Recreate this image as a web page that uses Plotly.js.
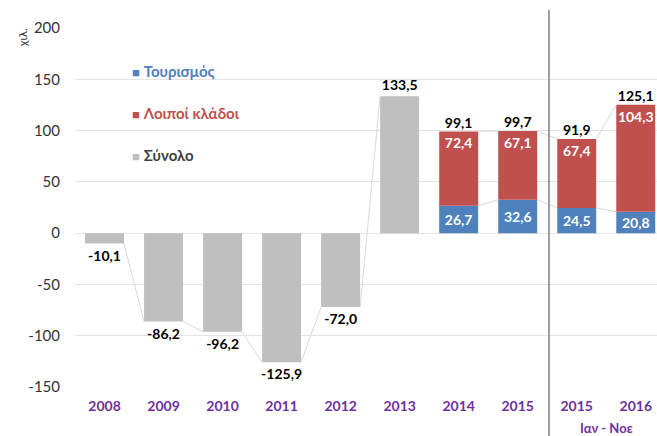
<!DOCTYPE html>
<html>
<head>
<meta charset="utf-8">
<script src="https://cdn.plot.ly/plotly-3.0.1.min.js"></script>
<style>html,body{margin:0;padding:0;background:#fff;}#chart{width:657px;height:436px;}</style>
</head>
<body>
<div id="chart"></div>
<script>
const categories = ['2008','2009','2010','2011','2012','2013','2014','2015','2015','2016'];
const totals = [-10.1,-86.2,-96.2,-125.9,-72.0,133.5,99.1,99.7,91.9,125.1];
const totalOnly = [-10.1,-86.2,-96.2,-125.9,-72.0,133.5,null,null,null,null];
const tourism = [null,null,null,null,null,null,26.7,32.6,24.5,20.8];
const others = [null,null,null,null,null,null,72.4,67.1,67.4,104.3];
const yTicks = [-150,-100,-50,0,50,100,150,200];
const periodLabel = 'Ιαν - Νοε';
const legendNames = ['Τουρισμός','Λοιποί κλάδοι','Σύνολο'];

const xs = categories.map((c,i)=>i);
const gap = 0.34, hw = (1-gap)/2;
const FONT = 'Lato, "Noto Sans", sans-serif';
const C_BLUE = '#4f81bd', C_RED = '#c0504d', C_GRAY = '#bfbfbf';
const fmt = v => v.toFixed(1).replace('.',',');

function connectors(vals){
  const x=[], y=[];
  for(let i=0;i<vals.length-1;i++){
    if(vals[i]!=null && vals[i+1]!=null){
      x.push(i+hw, i+1-hw, null); y.push(vals[i], vals[i+1], null);
    }
  }
  return {type:'scatter', mode:'lines', x, y, line:{color:'#d9d9d9', width:1}, hoverinfo:'skip', showlegend:false};
}
const redTops = tourism.map((t,i)=> t==null? null : t + others[i]);

const traces = [
  connectors(totalOnly), connectors(tourism), connectors(redTops),
  {type:'bar', x:xs, y:totalOnly, marker:{color:C_GRAY}, name:legendNames[2],
   text:totalOnly.map(v=> v==null?'':'<b>'+fmt(v)+'</b>'), texttemplate:'%{text}', textposition:'outside', cliponaxis:false,
   textangle:0, constraintext:'none',
   textfont:{family:FONT, size:14, color:'#000'}, showlegend:false},
  {type:'bar', x:xs, y:tourism, marker:{color:C_BLUE}, name:legendNames[0],
   texttemplate:'<b>%{y:.1f}</b>', textposition:'inside', insidetextanchor:'middle', textangle:0, constraintext:'none',
   textfont:{family:FONT, size:14, color:'#fff'}, showlegend:false},
  {type:'bar', x:xs, y:others, marker:{color:C_RED}, name:legendNames[1],
   texttemplate:'<b>%{y:.1f}</b>', textposition:'inside', insidetextanchor:'end', textangle:0, constraintext:'none',
   textfont:{family:FONT, size:14, color:'#fff'}, showlegend:false},
  {type:'scatter', mode:'text', x:xs.filter(i=>tourism[i]!=null), y:xs.filter(i=>tourism[i]!=null).map(i=>totals[i]),
   text:xs.filter(i=>tourism[i]!=null).map(i=>'<b>'+fmt(totals[i])+'</b>'),
   textposition:'top center', textfont:{family:FONT, size:14, color:'#000'}, hoverinfo:'skip', showlegend:false, cliponaxis:false}
];

const legendY = [0.880, 0.763, 0.646];
const legendCol = [C_BLUE, C_RED, C_GRAY];
const legendTxt = [C_BLUE, C_RED, '#404040'];
const annotations = legendNames.map((n,k)=>({
  xref:'paper', yref:'paper', x:0.094, y:legendY[k], xanchor:'left', yanchor:'middle', showarrow:false,
  text:'<span style="color:'+legendCol[k]+';font-size:13px">■</span> <b>'+n+'</b>',
  font:{family:FONT, size:15, color:legendTxt[k]}
}));
annotations.push({xref:'x', yref:'paper', x:8.5, y:0, yshift:-31, yanchor:'top', showarrow:false,
  text:'<b>'+periodLabel+'</b>', font:{family:FONT, size:13, color:'#7030a0'}});
annotations.push({xref:'paper', yref:'y', x:0, xshift:-53, xanchor:'center', y:190, yanchor:'middle', showarrow:false, textangle:-90,
  text:'χιλ.', font:{family:FONT, size:12, color:'#333'}});

const layout = {
  width:657, height:436,
  margin:{l:75, r:0, t:28, b:49},
  paper_bgcolor:'#fff', plot_bgcolor:'#fff',
  barmode:'relative', bargap:gap,
  separators:',.',
  font:{family:FONT, color:'#333'},
  xaxis:{range:[-0.5, 9.36], tickvals:xs, ticktext:categories, showgrid:false, zeroline:false,
    ticks:'', ticklabelstandoff:9, tickfont:{family:FONT, size:14, color:'#7030a0', weight:'bold'}, fixedrange:true},
  yaxis:{range:[-150,200], tickvals:yTicks, ticktext:yTicks.map(v=>String(v)), showgrid:true, gridcolor:'#e3e3e3', gridwidth:1,
    zeroline:true, zerolinecolor:'#e3e3e3', zerolinewidth:1, ticks:'', ticklabelstandoff:14,
    tickfont:{family:FONT, size:15, color:'#333'}, fixedrange:true},
  shapes:[{type:'line', xref:'x', yref:'paper', x0:7.53, x1:7.53, y0:-0.14, y1:1.05, line:{color:'#808080', width:1.5}}],
  annotations:annotations,
  showlegend:false
};
Plotly.newPlot('chart', traces, layout, {displayModeBar:false, staticPlot:true});
</script>
</body>
</html>
